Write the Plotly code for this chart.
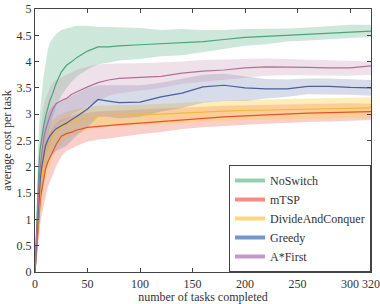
import plotly.graph_objects as go

x = [0, 1, 2, 3, 4, 5, 6, 8, 10, 12, 14, 17, 20, 25, 30, 35, 40, 50, 60, 70, 80,
     100, 120, 140, 160, 180, 200, 220, 240, 260, 280, 300, 320]

names = ["NoSwitch", "mTSP", "DivideAndConquer", "Greedy", "A*First"]

noswitch_mean = [0, 0.6, 1.2, 1.7, 2.1, 2.35, 2.5, 2.75, 2.95, 3.1, 3.25, 3.4, 3.58, 3.8, 3.93, 4.0, 4.08,
                 4.2, 4.28, 4.28, 4.3, 4.32, 4.34, 4.36, 4.38, 4.42, 4.46, 4.48, 4.5, 4.53, 4.55, 4.57, 4.58]
noswitch_up = [0, 1.0, 1.8, 2.4, 2.8, 3.1, 3.3, 3.7, 4.0, 4.2, 4.35, 4.45, 4.52, 4.6, 4.63, 4.66, 4.68,
               4.68, 4.66, 4.66, 4.65, 4.64, 4.6, 4.62, 4.6, 4.6, 4.62, 4.62, 4.63, 4.65, 4.67, 4.7, 4.7]
noswitch_lo = [0, 0.3, 0.7, 1.1, 1.5, 1.7, 1.9, 2.2, 2.4, 2.6, 2.75, 2.95, 3.15, 3.35, 3.5, 3.62, 3.72,
               3.85, 3.95, 3.98, 4.02, 4.05, 4.1, 4.12, 4.18, 4.24, 4.3, 4.33, 4.38, 4.4, 4.43, 4.45, 4.47]

mtsp_mean = [0, 0.3, 0.6, 0.9, 1.15, 1.35, 1.5, 1.75, 1.95, 2.08, 2.17, 2.3, 2.42, 2.58, 2.63, 2.66, 2.7,
             2.75, 2.77, 2.78, 2.8, 2.83, 2.86, 2.9, 2.93, 2.95, 2.97, 2.99, 3.01, 3.02, 3.03, 3.04, 3.05]
mtsp_up = [0, 0.5, 0.9, 1.25, 1.55, 1.8, 2.0, 2.25, 2.45, 2.58, 2.66, 2.75, 2.82, 2.9, 2.94, 2.97, 3.0,
           3.03, 3.05, 3.06, 3.07, 3.09, 3.11, 3.13, 3.15, 3.16, 3.17, 3.18, 3.19, 3.2, 3.2, 3.21, 3.2]
mtsp_lo = [0, 0.1, 0.3, 0.55, 0.75, 0.9, 1.05, 1.25, 1.45, 1.6, 1.7, 1.85, 2.0, 2.2, 2.3, 2.35, 2.4,
           2.48, 2.52, 2.54, 2.57, 2.62, 2.66, 2.72, 2.75, 2.78, 2.8, 2.82, 2.84, 2.85, 2.86, 2.88, 2.89]

dac_mean = [0, 0.35, 0.7, 1.05, 1.3, 1.55, 1.72, 2.0, 2.2, 2.32, 2.42, 2.55, 2.65, 2.75, 2.8, 2.85, 2.88,
            2.93, 2.97, 2.98, 2.98, 2.99, 3.0, 3.02, 3.05, 3.06, 3.07, 3.08, 3.09, 3.1, 3.11, 3.12, 3.12]
dac_up = [0, 0.6, 1.1, 1.5, 1.8, 2.05, 2.2, 2.45, 2.6, 2.7, 2.8, 2.9, 2.95, 3.0, 3.05, 3.08, 3.1,
          3.13, 3.16, 3.17, 3.17, 3.18, 3.2, 3.22, 3.24, 3.25, 3.27, 3.28, 3.29, 3.3, 3.3, 3.31, 3.32]
dac_lo = [0, 0.1, 0.3, 0.6, 0.85, 1.05, 1.2, 1.5, 1.75, 1.9, 2.0, 2.15, 2.3, 2.45, 2.52, 2.58, 2.62,
          2.7, 2.75, 2.76, 2.77, 2.78, 2.8, 2.83, 2.86, 2.88, 2.89, 2.9, 2.91, 2.92, 2.93, 2.93, 2.93]

greedy_mean = [0, 0.4, 0.8, 1.2, 1.5, 1.75, 1.95, 2.2, 2.4, 2.5, 2.58, 2.66, 2.72, 2.78, 2.83, 2.9, 2.96,
               3.1, 3.28, 3.25, 3.22, 3.23, 3.33, 3.4, 3.52, 3.55, 3.5, 3.48, 3.48, 3.53, 3.53, 3.51, 3.5]
greedy_up = [0, 0.7, 1.2, 1.6, 1.95, 2.2, 2.4, 2.7, 2.9, 3.0, 3.1, 3.15, 3.2, 3.25, 3.3, 3.35, 3.4,
             3.5, 3.55, 3.55, 3.55, 3.55, 3.6, 3.68, 3.75, 3.77, 3.72, 3.67, 3.66, 3.68, 3.68, 3.66, 3.65]
greedy_lo = [0, 0.15, 0.45, 0.8, 1.05, 1.3, 1.5, 1.75, 1.95, 2.05, 2.15, 2.25, 2.3, 2.35, 2.4, 2.5, 2.6,
             2.75, 2.95, 2.95, 2.92, 2.95, 3.05, 3.12, 3.22, 3.25, 3.25, 3.3, 3.33, 3.38, 3.38, 3.37, 3.35]

astar_mean = [0, 0.5, 1.0, 1.4, 1.75, 2.0, 2.2, 2.5, 2.7, 2.85, 2.95, 3.1, 3.2, 3.26, 3.3, 3.38, 3.43,
              3.52, 3.6, 3.65, 3.68, 3.7, 3.72, 3.78, 3.82, 3.84, 3.88, 3.9, 3.9, 3.89, 3.88, 3.88, 3.92]
astar_up = [0, 0.8, 1.5, 1.9, 2.3, 2.6, 2.8, 3.1, 3.3, 3.4, 3.5, 3.6, 3.65, 3.7, 3.75, 3.8, 3.85,
            3.9, 3.95, 3.96, 3.97, 3.97, 3.98, 4.0, 4.03, 4.04, 4.06, 4.06, 4.05, 4.04, 4.03, 4.02, 4.0]
astar_lo = [0, 0.2, 0.6, 0.9, 1.2, 1.4, 1.6, 1.9, 2.1, 2.3, 2.4, 2.6, 2.75, 2.85, 2.9, 3.0, 3.05,
            3.15, 3.25, 3.35, 3.4, 3.45, 3.5, 3.58, 3.62, 3.66, 3.7, 3.73, 3.74, 3.74, 3.73, 3.73, 3.75]

x_ticks = [0, 50, 100, 150, 200, 250, 300, 320]
y_ticks = [0, 0.5, 1, 1.5, 2, 2.5, 3, 3.5, 4, 4.5, 5]
y_tick_text = ["0", "0.5", "1", "1.5", "2", "2.5", "3", "3.5", "4", "4.5", "5"]

series = [
    (names[0], noswitch_mean, noswitch_lo, noswitch_up, "#4aa579", "rgba(90,175,135,0.30)", "rgba(130,200,160,0.85)"),
    (names[1], mtsp_mean, mtsp_lo, mtsp_up, "#e4532f", "rgba(240,95,75,0.30)", "rgba(245,120,110,0.85)"),
    (names[2], dac_mean, dac_lo, dac_up, "#f2b93a", "rgba(252,205,70,0.38)", "rgba(252,210,110,0.9)"),
    (names[3], greedy_mean, greedy_lo, greedy_up, "#4b5f99", "rgba(100,120,175,0.26)", "rgba(100,140,200,0.9)"),
    (names[4], astar_mean, astar_lo, astar_up, "#b0709a", "rgba(195,140,170,0.26)", "rgba(190,140,200,0.9)"),
]

fig = go.Figure()
for name, m, lo, up, lc, fc, legc in series:
    fig.add_trace(go.Scatter(x=x, y=lo, mode="lines", line=dict(width=0), showlegend=False, hoverinfo="skip"))
    fig.add_trace(go.Scatter(x=x, y=up, mode="lines", line=dict(width=0), fill="tonexty",
                             fillcolor=fc, showlegend=False, hoverinfo="skip"))
for name, m, lo, up, lc, fc, legc in series:
    fig.add_trace(go.Scatter(x=x, y=m, mode="lines", line=dict(color=lc, width=1.2), showlegend=False))
for name, m, lo, up, lc, fc, legc in series:
    fig.add_trace(go.Scatter(x=[None], y=[None], mode="lines", name=name,
                             line=dict(color=legc, width=4)))

font_family = "'Liberation Serif', 'Times New Roman', Times, serif"
axis_common = dict(showline=True, linecolor="#444", linewidth=1.2, mirror="ticks", ticks="inside",
                   ticklen=4, tickcolor="#444", showgrid=False, zeroline=False, automargin=False,
                   tickfont=dict(family=font_family, size=12, color="#333"))

fig.update_layout(
    width=380, height=304,
    margin=dict(l=35, r=9, t=9, b=32),
    paper_bgcolor="white", plot_bgcolor="white",
    font=dict(family=font_family, size=12, color="#333"),
    xaxis=dict(range=[0, 320], tickvals=x_ticks, ticktext=[str(v) for v in x_ticks],
               title=dict(text="number of tasks completed", font=dict(size=12, family=font_family), standoff=0),
               **axis_common),
    yaxis=dict(range=[0, 5], tickvals=y_ticks, ticktext=y_tick_text,
               title=dict(text="average cost per task", font=dict(size=12, family=font_family), standoff=2),
               **axis_common),
    legend=dict(x=1, xanchor="right", y=0, yanchor="bottom", bgcolor="white",
                bordercolor="#444", borderwidth=1, font=dict(size=12, family=font_family),
                itemwidth=30, tracegroupgap=0, traceorder="normal"),
)

fig.write_html("out.html")
